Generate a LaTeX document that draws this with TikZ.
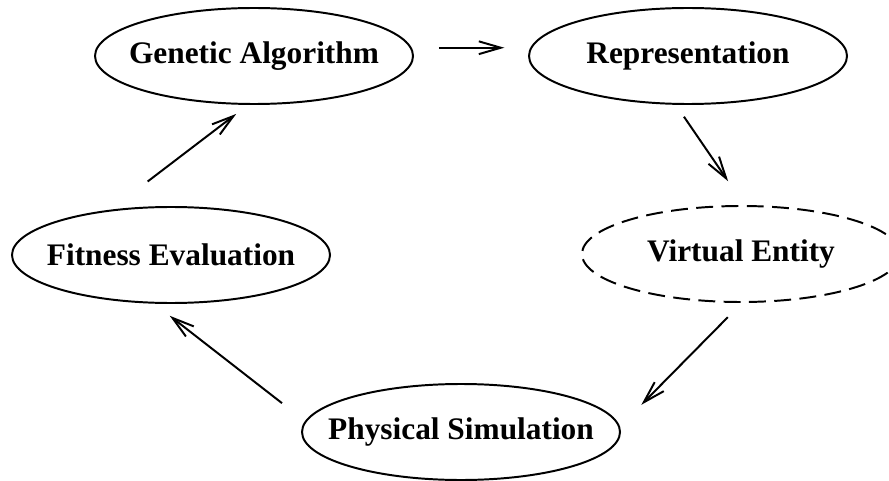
\documentclass[tikz,border=0pt]{standalone}
\usepackage{fontspec}
\setmainfont{Liberation Serif}
\usetikzlibrary{shapes.geometric,arrows.meta}

\begin{document}
\begin{tikzpicture}[->,>={Straight Barb[length=5.5mm,width=3.2mm]},line width=1.4pt,node distance=10.85cm,
  stage/.style={draw,ellipse,minimum width=7.95cm,minimum height=2.4cm,inner sep=0pt,
    font=\bfseries\fontsize{22.3}{26}\selectfont},
  virtual/.style={stage,dash pattern=on 12pt off 6pt}]
  \useasboundingbox (0,0) rectangle (22.225,12);
  \node[stage] (ga) at (6.35,10.6) {\makebox[0pt]{Genetic Algorithm}};
  \node[stage] (rep) [right of=ga] {\makebox[0pt]{Representation}};
  \node[virtual] (ve) at (18.525,5.65) {\makebox[0pt]{Virtual Entity}};
  \node[stage] (fe) at (4.275,5.625) {\makebox[0pt]{Fitness Evaluation}};
  \node[stage] (ps) at (11.525,1.2) {\makebox[0pt]{Physical Simulation}};
  \path (ga.3) edge [shorten <=6.8mm,shorten >=6.5mm] (rep.177);
  \path (rep.256) edge [shorten <=3.6mm,shorten >=7.2mm] (ve.86.7);
  \path (ve.271.2) edge [shorten <=5mm,shorten >=7.6mm] (ps.2.4);
  \path (ps.176.8) edge [shorten <=7.3mm,shorten >=4.9mm] (fe.251.1);
  \path (fe.143.3) edge [shorten <=11.6mm,shorten >=3.7mm] (ga.263.6);
\end{tikzpicture}
\end{document}
